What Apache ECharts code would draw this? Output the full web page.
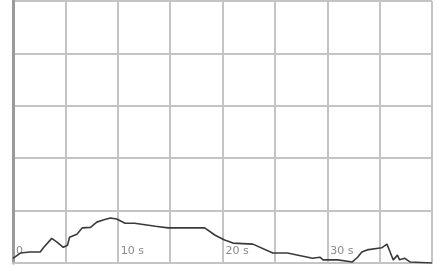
<!DOCTYPE html>
<html>
<head>
<meta charset="utf-8">
<script src="https://cdn.jsdelivr.net/npm/echarts@6/dist/echarts.min.js"></script>
<style>
  html, body { margin: 0; padding: 0; background: #fff; }
  #chart { width: 440px; height: 271px; }
</style>
</head>
<body>
<div id="chart"></div>
<script>
// time in seconds, trace level (arbitrary units)
const times = [0, 0.7, 1.6, 2.6, 2.9, 3.7, 4.2, 4.8, 5.2, 5.4, 6.1, 6.6, 7.4, 8.0, 8.6, 9.3, 9.9, 10.7, 11.6, 13.6, 14.8, 18.3, 19.3, 20.2, 21.0, 22.9, 24.8, 26.2, 28.6, 29.3, 29.6, 31.0, 32.4, 32.9, 33.3, 33.8, 35.2, 35.7, 36.0, 36.3, 36.7, 36.9, 37.4, 37.9, 40];
const levels = [0.9, 1.9, 2.1, 2.1, 2.9, 4.7, 4.0, 3.0, 3.4, 4.9, 5.5, 6.7, 6.8, 7.8, 8.2, 8.6, 8.4, 7.6, 7.6, 7.0, 6.7, 6.7, 5.3, 4.4, 3.8, 3.6, 1.9, 1.9, 0.9, 1.1, 0.6, 0.6, 0.2, 1.1, 2.1, 2.5, 2.9, 3.6, 2.1, 0.6, 1.5, 0.6, 0.9, 0.2, 0];
const tickLabels = { 0: '0', 10: '10 s', 20: '20 s', 30: '30 s' };

const chart = echarts.init(document.getElementById('chart'));

chart.setOption({
  animation: false,
  backgroundColor: '#fff',
  grid: { left: 13, right: 8, top: 1, bottom: 8 },
  xAxis: {
    type: 'value',
    min: 0,
    max: 40,
    interval: 5,
    axisLine: { show: true, lineStyle: { color: '#c4c4c4', width: 2 } },
    axisTick: { show: false },
    axisLabel: {
      inside: true,
      align: 'left',
      margin: 6,
      padding: [0, 0, 0, 3],
      color: '#8a8a8a',
      fontSize: 11,
      fontFamily: 'DejaVu Sans',
      showMaxLabel: false,
      formatter: v => tickLabels[v] || ''
    },
    splitLine: { show: true, lineStyle: { color: '#c4c4c4', width: 2 } }
  },
  yAxis: {
    type: 'value',
    min: 0,
    max: 50,
    interval: 10,
    axisLine: { show: true, lineStyle: { color: '#9a9a9a', width: 3 } },
    axisTick: { show: false },
    axisLabel: { show: false },
    splitLine: { show: true, lineStyle: { color: '#c4c4c4', width: 2 } }
  },
  series: [{
    type: 'line',
    data: times.map((t, i) => [t, levels[i]]),
    symbol: 'none',
    lineStyle: { color: '#3a3a3a', width: 1.6 }
  }]
});
</script>
</body>
</html>
